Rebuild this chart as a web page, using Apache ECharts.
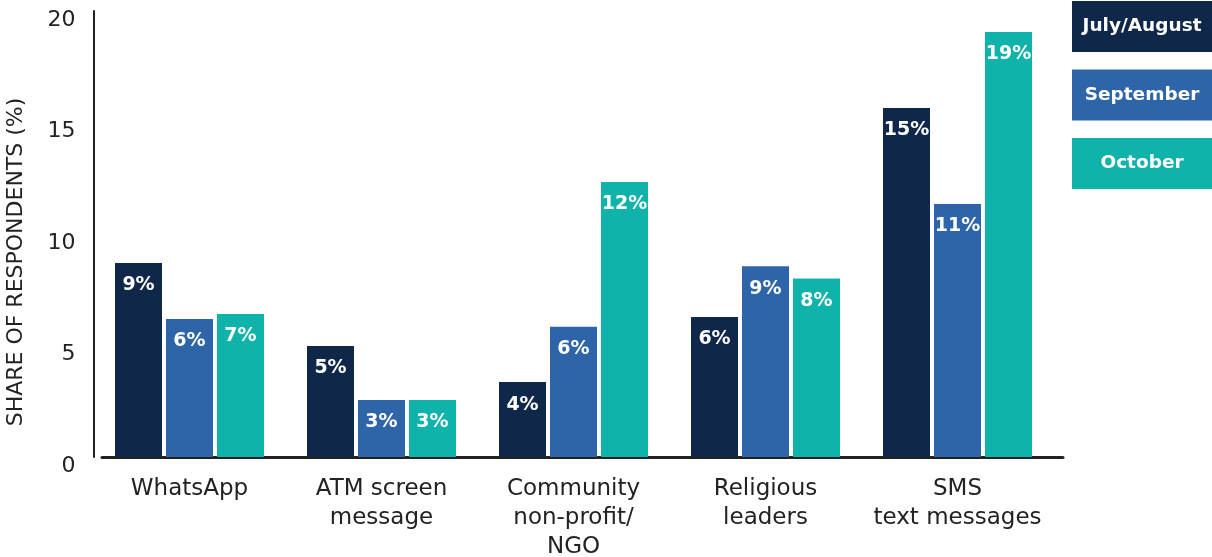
<!DOCTYPE html>
<html>
<head>
<meta charset="utf-8">
<script src="https://cdn.jsdelivr.net/npm/echarts@6/dist/echarts.min.js"></script>
<style>html,body{margin:0;padding:0;background:#fff}#c{width:1212px;height:557px}</style>
</head>
<body>
<div id="c"></div>
<script>
const categories = ['WhatsApp', 'ATM screen\nmessage', 'Community\nnon-profit/\nNGO', 'Religious\nleaders', 'SMS\ntext messages'];
const seriesNames = ['July/August', 'September', 'October'];
const julAug = [8.7, 4.98, 3.36, 6.28, 15.65];
const september = [6.19, 2.56, 5.84, 8.55, 11.35];
const october = [6.41, 2.56, 12.33, 8.01, 19.06];
const julAugLabels = ['9%', '5%', '4%', '6%', '15%'];
const septemberLabels = ['6%', '3%', '6%', '9%', '11%'];
const octoberLabels = ['7%', '3%', '12%', '8%', '19%'];
const yTicks = [0, 5, 10, 15, 20];

const colors = ['#0f2749', '#2d65a8', '#0fb3aa'];
const FONT = '"DejaVu Sans", sans-serif';
const values = [julAug, september, october];
const labels = [julAugLabels, septemberLabels, octoberLabels];

const chart = echarts.init(document.getElementById('c'));
chart.setOption({
  animation: false,
  textStyle: { fontFamily: FONT },
  grid: [
    { left: 93.5, right: 158.5, top: 11, bottom: 100, outerBoundsMode: 'none', containLabel: false },
    { left: 102, right: 149, top: 11, bottom: 100, outerBoundsMode: 'none', containLabel: false }
  ],
  xAxis: [
    {
      type: 'category', gridIndex: 0, data: categories,
      axisLine: { show: false }, axisTick: { show: false },
      axisLabel: { fontSize: 23, color: '#222', lineHeight: 29, margin: 18, fontFamily: FONT, interval: 0 }
    },
    {
      type: 'category', gridIndex: 1, data: [''],
      axisLine: { show: true, lineStyle: { color: '#222', width: 3 } },
      axisTick: { show: false }, axisLabel: { show: false }
    }
  ],
  yAxis: [
    {
      type: 'value', gridIndex: 0, min: yTicks[0], max: yTicks[yTicks.length - 1], interval: 5,
      axisLine: { show: true, lineStyle: { color: '#222', width: 2 } },
      axisTick: { show: false }, splitLine: { show: false },
      axisLabel: { fontSize: 22, color: '#222', margin: 18, verticalAlign: 'top', lineHeight: 18, fontFamily: FONT },
      name: 'SHARE OF RESPONDENTS (%)', nameLocation: 'middle', nameGap: 66,
      nameTextStyle: { fontSize: 22, color: '#222', fontFamily: FONT, padding: [0, 56, 0, 0] }
    },
    { type: 'value', gridIndex: 1, show: false, min: 0, max: 20 }
  ],
  series: seriesNames.map((n, i) => ({
    name: n, type: 'bar', xAxisIndex: 0, yAxisIndex: 0,
    data: values[i], barWidth: 47, barGap: '8.5%',
    itemStyle: { color: colors[i] },
    label: {
      show: true, position: 'insideTop', distance: 13, color: '#fff',
      fontSize: 19, fontWeight: 'bold', fontFamily: FONT,
      formatter: p => labels[i][p.dataIndex]
    }
  })),
  graphic: seriesNames.map((n, i) => ({
    type: 'group', right: 0, top: 1 + i * 68.5,
    children: [
      { type: 'rect', shape: { x: 0, y: 0, width: 140, height: 51 }, style: { fill: colors[i] } },
      { type: 'text', x: 70, y: 25.5, style: { text: n, fill: '#fff', font: 'bold 18.5px ' + FONT, align: 'center', verticalAlign: 'middle' } }
    ]
  }))
});
</script>
</body>
</html>
